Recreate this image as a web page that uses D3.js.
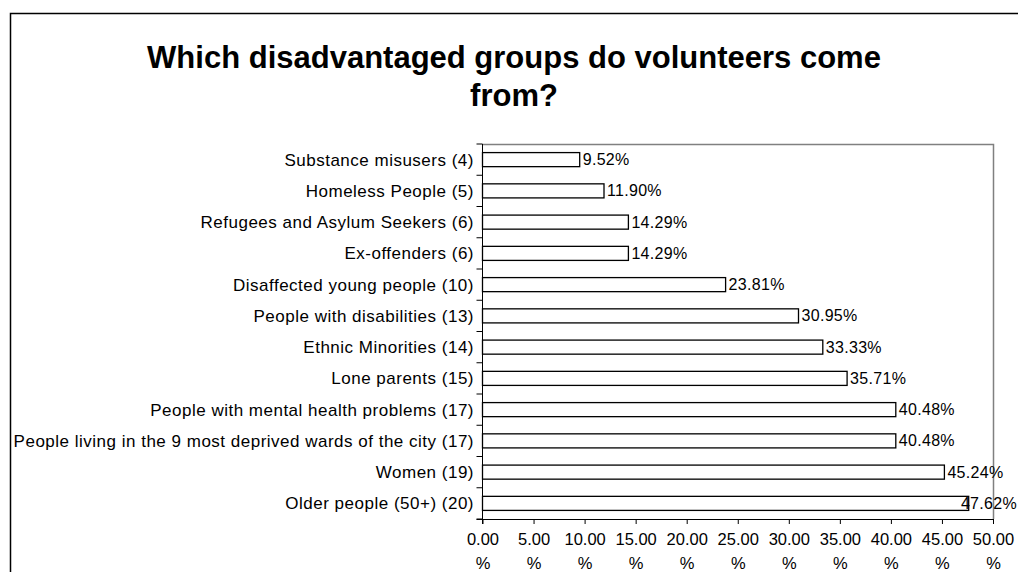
<!DOCTYPE html>
<html>
<head>
<meta charset="utf-8">
<script src="https://cdn.jsdelivr.net/npm/d3@7"></script>
<style>
  html, body { margin: 0; padding: 0; background: #fff; }
  svg { display: block; font-family: "Liberation Sans", Arial, sans-serif; }
</style>
</head>
<body>
<svg id="chart" width="1018" height="572"></svg>
<script>
// Groups (top to bottom) with respondent counts and share of volunteers
const categories = [
  "Substance misusers (4)",
  "Homeless People (5)",
  "Refugees and Asylum Seekers (6)",
  "Ex-offenders (6)",
  "Disaffected young people (10)",
  "People with disabilities (13)",
  "Ethnic Minorities (14)",
  "Lone parents (15)",
  "People with mental health problems (17)",
  "People living in the 9 most deprived wards of the city (17)",
  "Women (19)",
  "Older people (50+) (20)"
];
const percentages = [9.52, 11.90, 14.29, 14.29, 23.81, 30.95, 33.33, 35.71, 40.48, 40.48, 45.24, 47.62];
const xTicks = [0, 5, 10, 15, 20, 25, 30, 35, 40, 45, 50];
const titleLines = ["Which disadvantaged groups do volunteers come", "from?"];

const W = 1018;
const svg = d3.select("#chart");

// Outer chart frame
svg.append("rect")
  .attr("x", 10.5).attr("y", 13.5)
  .attr("width", 1030).attr("height", 600)
  .attr("fill", "none").attr("stroke", "#000").attr("stroke-width", 1.5);

// Title
svg.append("text")
  .attr("text-anchor", "middle")
  .attr("font-weight", "bold")
  .attr("font-size", 31)
  .selectAll("tspan")
  .data(titleLines)
  .join("tspan")
  .attr("x", 514)
  .attr("y", (d, i) => 68 + i * 38)
  .text(d => d);

const plot = { left: 482.5, right: 993, top: 144, bottom: 519 };

const x = d3.scaleLinear().domain([0, 50]).range([plot.left, plot.right]);
const y = d3.scaleBand().domain(categories).range([plot.top, plot.bottom]).paddingInner(0.55).paddingOuter(0.275);

// Plot area border (top and right in grey)
svg.append("path")
  .attr("d", `M${plot.left},${plot.top + 0.5}H${plot.right + 0.5}V${plot.bottom}`)
  .attr("fill", "none").attr("stroke", "#808080").attr("stroke-width", 1.5);

// Bars
svg.append("g")
  .selectAll("rect")
  .data(categories)
  .join("rect")
  .attr("x", x(0))
  .attr("y", d => y(d))
  .attr("width", (d, i) => x(percentages[i]) - x(0))
  .attr("height", y.bandwidth())
  .attr("fill", "#fff")
  .attr("stroke", "#000")
  .attr("stroke-width", 1.3);

// Value labels, nudged left when they would run past the frame edge
svg.append("g")
  .attr("font-size", 16)
  .attr("letter-spacing", 0.3)
  .selectAll("text")
  .data(categories)
  .join("text")
  .attr("y", d => y(d) + y.bandwidth() / 2)
  .attr("dy", "0.35em")
  .text((d, i) => percentages[i].toFixed(2) + "%")
  .each(function (d, i) {
    const w = this.getComputedTextLength();
    d3.select(this).attr("x", Math.min(x(percentages[i]) + 3, W - w - 1));
  });

// Category axis: labels centred on each band, ticks at band boundaries
const step = (plot.bottom - plot.top) / categories.length;
const yAxis = svg.append("g");
yAxis.append("line")
  .attr("x1", plot.left).attr("x2", plot.left)
  .attr("y1", plot.top).attr("y2", plot.bottom + 5)
  .attr("stroke", "#000");
yAxis.selectAll("line.tick")
  .data(d3.range(categories.length + 1))
  .join("line")
  .attr("class", "tick")
  .attr("x1", plot.left - 6).attr("x2", plot.left)
  .attr("y1", i => plot.top + i * step)
  .attr("y2", i => plot.top + i * step)
  .attr("stroke", "#000");
yAxis.selectAll("text")
  .data(categories)
  .join("text")
  .attr("x", 474)
  .attr("y", d => y(d) + y.bandwidth() / 2)
  .attr("dy", "0.35em")
  .attr("text-anchor", "end")
  .attr("font-size", 17)
  .attr("letter-spacing", 0.5)
  .text(d => d);

// Value axis
const xAxis = svg.append("g")
  .attr("transform", `translate(0,${plot.bottom})`)
  .call(d3.axisBottom(x).tickValues(xTicks).tickSize(5).tickSizeOuter(0).tickFormat(() => ""));
xAxis.select(".domain").attr("d", `M${plot.left - 6},0.5H${plot.right}`).attr("stroke", "#000");
xAxis.selectAll(".tick line").attr("stroke", "#000");
xAxis.selectAll(".tick").each(function (d) {
  const t = d3.select(this).append("text")
    .attr("fill", "#000")
    .attr("font-size", 16.5)
    .attr("text-anchor", "middle");
  t.append("tspan").attr("x", 0).attr("y", 26).text(d.toFixed(2));
  t.append("tspan").attr("x", 0).attr("y", 50).text("%");
});
</script>
</body>
</html>
